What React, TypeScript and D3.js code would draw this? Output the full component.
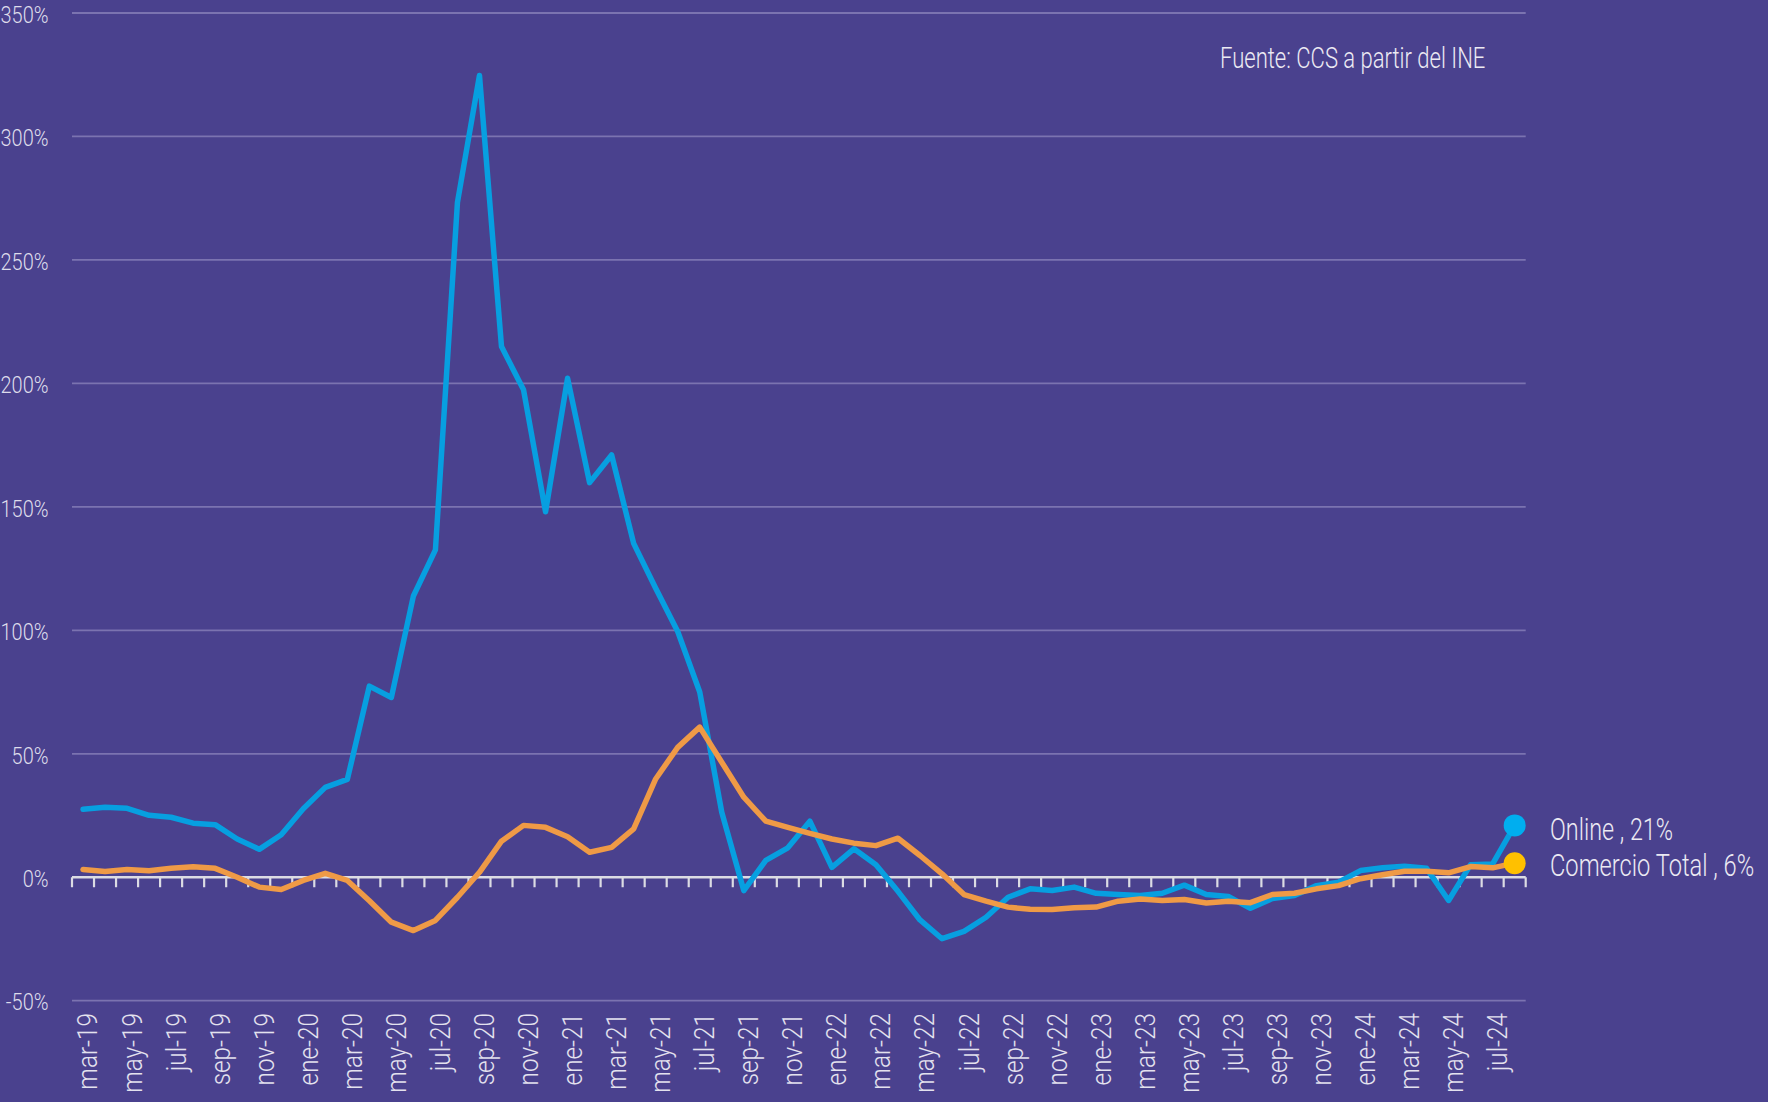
import React from "react";
import * as d3 from "d3";

const months: string[] = [
  "mar-19","abr-19","may-19","jun-19","jul-19","ago-19","sep-19","oct-19","nov-19","dic-19",
  "ene-20","feb-20","mar-20","abr-20","may-20","jun-20","jul-20","ago-20","sep-20","oct-20","nov-20","dic-20",
  "ene-21","feb-21","mar-21","abr-21","may-21","jun-21","jul-21","ago-21","sep-21","oct-21","nov-21","dic-21",
  "ene-22","feb-22","mar-22","abr-22","may-22","jun-22","jul-22","ago-22","sep-22","oct-22","nov-22","dic-22",
  "ene-23","feb-23","mar-23","abr-23","may-23","jun-23","jul-23","ago-23","sep-23","oct-23","nov-23","dic-23",
  "ene-24","feb-24","mar-24","abr-24","may-24","jun-24","jul-24","ago-24",
];

const online: number[] = [
  27.5, 28.3, 27.9, 25.1, 24.3, 21.9, 21.3, 15.5, 11.3, 17.2,
  27.7, 36.4, 39.6, 77.4, 72.8, 113.9, 132.6, 273.3, 324.7, 214.9, 197.4, 148,
  202.1, 159.8, 171, 135.2, 117, 99.5, 75, 26.3, -5.4, 6.8, 11.9, 22.7,
  4, 11.5, 5.1, -5.7, -17.3, -24.9, -21.9, -16.2, -8.1, -4.7, -5.4, -4,
  -6.5, -7, -7.4, -6.5, -3.2, -7, -7.8, -12.6, -8.6, -7.4, -3.4, -2,
  2.7, 3.8, 4.5, 3.6, -9.4, 5.1, 5.4, 21,
];

const comercio: number[] = [
  3.1, 2.3, 3.1, 2.6, 3.6, 4.2, 3.6, 0, -4, -5,
  -1.3, 1.6, -1.3, -9.5, -18.2, -21.6, -17.5, -8.1, 2, 14.6, 21, 20.2,
  16.4, 10.1, 12.1, 19.6, 39.8, 52.6, 60.8, 46.6, 32.4, 22.7, 20.2, 17.8,
  15.5, 13.8, 12.8, 15.8, 8.8, 1.4, -7, -9.7, -12.1, -13, -13.1, -12.4,
  -12.1, -9.7, -8.8, -9.4, -9, -10.4, -9.7, -10.3, -7, -6.5, -4.7, -3.4,
  -0.6, 1, 2.4, 2.4, 1.8, 4.3, 3.8, 5.7,
];

const yTicks: number[] = [-50, 0, 50, 100, 150, 200, 250, 300, 350];
const xTickLabels: string[] = [
  "mar-19","may-19","jul-19","sep-19","nov-19","ene-20","mar-20","may-20","jul-20","sep-20","nov-20",
  "ene-21","mar-21","may-21","jul-21","sep-21","nov-21","ene-22","mar-22","may-22","jul-22","sep-22",
  "nov-22","ene-23","mar-23","may-23","jul-23","sep-23","nov-23","ene-24","mar-24","may-24","jul-24",
];
const seriesNames: string[] = ["Online", "Comercio Total"];
const sourceText = "Fuente: CCS a partir del INE";

const W = 1768;
const H = 1102;
const BG = "#4A418E";
const FONT = "Roboto, 'Open Sans', sans-serif";

export default function App() {
  const x = d3.scaleBand<string>().domain(months).range([72, 1525.7]).paddingInner(0).paddingOuter(0);
  const y = d3.scaleLinear().domain([-50, 350]).range([1000.7, 13]);
  const cx = (m: string) => (x(m) as number) + x.bandwidth() / 2;

  const line = d3
    .line<number>()
    .x((_, i) => cx(months[i]))
    .y((d) => y(d))
    .curve(d3.curveLinear);

  const boundaries = d3.range(months.length + 1).map((i) => 72 + i * x.bandwidth());
  const last = months.length - 1;

  return (
    <svg
      width={W}
      height={H}
      style={{ position: "absolute", left: 0, top: 0, display: "block" }}
    >
      <rect x={0} y={0} width={W} height={H} fill={BG} />

      {yTicks.filter((t) => t !== 0).map((t) => (
        <line key={t} x1={72} x2={1525.7} y1={y(t)} y2={y(t)} stroke="#7B73B0" strokeWidth={1.8} />
      ))}

      {yTicks.map((t) => (
        <text
          key={"yl" + t}
          transform={`translate(48.5,${y(t) + 1.3}) scale(0.85,1)`}
          textAnchor="end"
          dy="0.36em"
          fontFamily={FONT}
          fontWeight={300}
          fontSize={23.5}
          fill="#DEDCEB"
        >
          {t}%
        </text>
      ))}

      <line x1={72} x2={1525.7} y1={y(0)} y2={y(0)} stroke="#DCDCE4" strokeWidth={2.4} />
      {boundaries.map((bx, i) => (
        <line key={"tk" + i} x1={bx} x2={bx} y1={y(0)} y2={y(0) + 10} stroke="#DCDCE4" strokeWidth={2.2} />
      ))}

      {xTickLabels.map((m) => (
        <text
          key={"xl" + m}
          transform={`translate(${cx(m) + 5},1013) rotate(-90) scale(0.9,1)`}
          textAnchor="end"
          dy="0.35em"
          fontFamily={FONT}
          fontWeight={300}
          fontSize={27}
          fill="#E4E2EE"
        >
          {m}
        </text>
      ))}

      <path d={line(online) || ""} fill="none" stroke="#079FE0" strokeWidth={5.5} strokeLinejoin="round" strokeLinecap="round" />
      <path d={line(comercio) || ""} fill="none" stroke="#EF9A46" strokeWidth={5.5} strokeLinejoin="round" strokeLinecap="round" />

      <circle cx={cx(months[last])} cy={y(online[last])} r={11} fill="#00AEEF" />
      <circle cx={cx(months[last])} cy={y(comercio[last])} r={11} fill="#FFC000" />

      <text
        transform={`translate(1550,840) scale(0.73,1)`}
        fontFamily={FONT}
        fontWeight={300}
        fontSize={32}
        fill="#ECEAF3"
      >
        {`${seriesNames[0]} , ${Math.round(online[last])}%`}
      </text>
      <text
        transform={`translate(1550,876) scale(0.74,1)`}
        fontFamily={FONT}
        fontWeight={300}
        fontSize={32}
        fill="#ECEAF3"
      >
        {`${seriesNames[1]} , ${Math.round(comercio[last])}%`}
      </text>

      <text
        transform={`translate(1220,68.3) scale(0.735,1)`}
        fontFamily={FONT}
        fontWeight={300}
        fontSize={30}
        fill="#ECEAF3"
      >
        {sourceText}
      </text>
    </svg>
  );
}
